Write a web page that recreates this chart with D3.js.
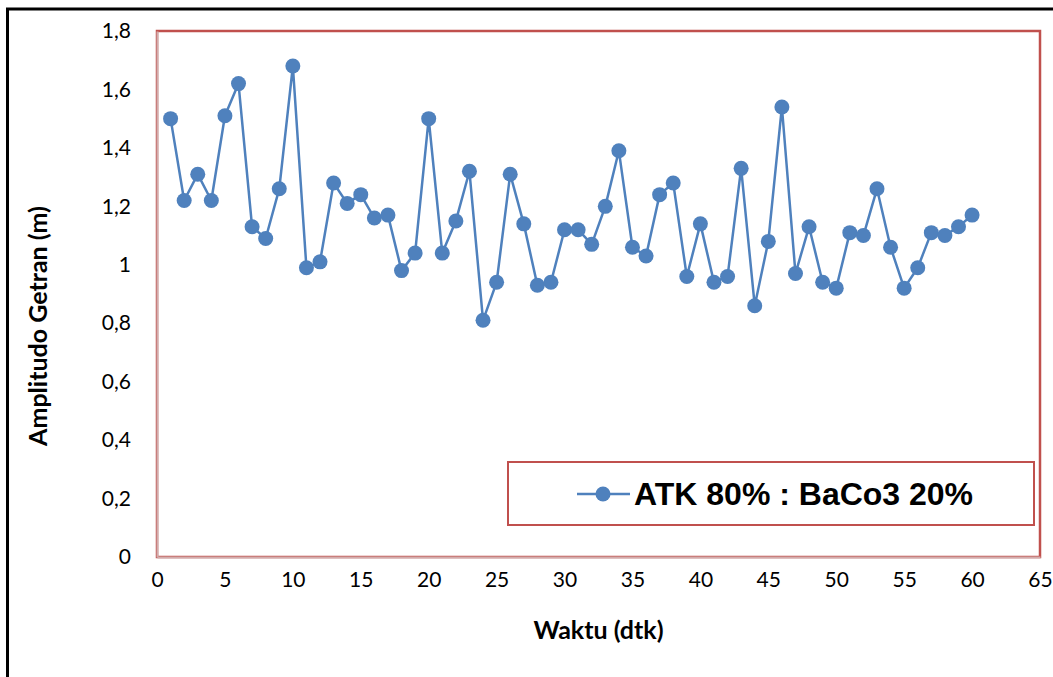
<!DOCTYPE html>
<html>
<head>
<meta charset="utf-8">
<script src="https://cdn.jsdelivr.net/npm/d3@7"></script>
<style>
  html, body { margin: 0; padding: 0; background: #ffffff; }
  svg { display: block; }
</style>
</head>
<body>
<svg id="chart" width="1053" height="677"></svg>
<script>
// Waktu (dtk) vs amplitudo getaran
const waktu = [1,2,3,4,5,6,7,8,9,10,11,12,13,14,15,16,17,18,19,20,
               21,22,23,24,25,26,27,28,29,30,31,32,33,34,35,36,37,38,39,40,
               41,42,43,44,45,46,47,48,49,50,51,52,53,54,55,56,57,58,59,60];
const amplitudo = [1.50,1.22,1.31,1.22,1.51,1.62,1.13,1.09,1.26,1.68,
                   0.99,1.01,1.28,1.21,1.24,1.16,1.17,0.98,1.04,1.50,
                   1.04,1.15,1.32,0.81,0.94,1.31,1.14,0.93,0.94,1.12,
                   1.12,1.07,1.20,1.39,1.06,1.03,1.24,1.28,0.96,1.14,
                   0.94,0.96,1.33,0.86,1.08,1.54,0.97,1.13,0.94,0.92,
                   1.11,1.10,1.26,1.06,0.92,0.99,1.11,1.10,1.13,1.17];
const xTicks = [0,5,10,15,20,25,30,35,40,45,50,55,60,65];
const yTicks = [0,0.2,0.4,0.6,0.8,1.0,1.2,1.4,1.6,1.8];
const seriesName = "ATK 80% : BaCo3 20%";
const xTitle = "Waktu (dtk)";
const yTitle = "Amplitudo Getran (m)";

const svg = d3.select("#chart");
const plot = { left: 157, right: 1040, top: 31, bottom: 557 };
const blue = "#4f81bd", red = "#c0504d";
const tickFont = "Lato, 'Open Sans', sans-serif";

const x = d3.scaleLinear().domain([0, 65]).range([plot.left, plot.right]);
const y = d3.scaleLinear().domain([0, 1.8]).range([plot.bottom, plot.top]);

const locale = d3.formatLocale({ decimal: ",", thousands: ".", grouping: [3], currency: ["", ""] });
const fmt = locale.format(".1~f");

// outer chart border
svg.append("rect")
  .attr("x", 7.5).attr("y", 9).attr("width", 1200).attr("height", 800)
  .attr("fill", "none").attr("stroke", "#000").attr("stroke-width", 3);

// plot area frame
svg.append("rect")
  .attr("x", plot.left).attr("y", plot.top)
  .attr("width", plot.right - plot.left).attr("height", plot.bottom - plot.top)
  .attr("fill", "none").attr("stroke", red).attr("stroke-width", 2.5);

// axes
const xAxis = svg.append("g")
  .attr("transform", `translate(0,${plot.bottom})`)
  .call(d3.axisBottom(x).tickValues(xTicks).tickSize(0).tickPadding(28).tickFormat(d3.format("d")));
const yAxis = svg.append("g")
  .attr("transform", `translate(${plot.left},0)`)
  .call(d3.axisLeft(y).tickValues(yTicks).tickSize(0).tickPadding(26).tickFormat(fmt));

[xAxis, yAxis].forEach(g => {
  g.select(".domain").attr("stroke", "#d2acac").attr("stroke-width", 2);
  g.selectAll("text")
    .attr("font-family", tickFont).attr("font-size", 21).attr("fill", "#000");
});
xAxis.selectAll("text").attr("dy", "0.1em");

// axis titles
svg.append("text")
  .attr("x", (plot.left + plot.right) / 2).attr("y", 639)
  .attr("text-anchor", "middle")
  .attr("font-family", tickFont).attr("font-weight", "bold").attr("font-size", 25)
  .text(xTitle);

svg.append("text")
  .attr("transform", "translate(47,326) rotate(-90)")
  .attr("text-anchor", "middle")
  .attr("font-family", tickFont).attr("font-weight", "bold").attr("font-size", 25)
  .text(yTitle);

// series line and markers
const pts = waktu.map((w, i) => [w, amplitudo[i]]);
svg.append("path")
  .datum(pts)
  .attr("fill", "none").attr("stroke", blue).attr("stroke-width", 2.5)
  .attr("stroke-linejoin", "round")
  .attr("d", d3.line().x(d => x(d[0])).y(d => y(d[1])));

svg.append("g").selectAll("circle")
  .data(pts).join("circle")
  .attr("cx", d => x(d[0])).attr("cy", d => y(d[1]))
  .attr("r", 7.5).attr("fill", blue);

// legend
const lg = svg.append("g");
lg.append("rect")
  .attr("x", 508).attr("y", 462).attr("width", 526).attr("height", 63)
  .attr("fill", "#fff").attr("stroke", red).attr("stroke-width", 2);
lg.append("line")
  .attr("x1", 577).attr("x2", 630).attr("y1", 494).attr("y2", 494)
  .attr("stroke", blue).attr("stroke-width", 2.5);
lg.append("circle").attr("cx", 603).attr("cy", 494).attr("r", 7.5).attr("fill", blue);
lg.append("text")
  .attr("x", 634).attr("y", 505)
  .attr("font-family", "'Liberation Sans', Arial, sans-serif")
  .attr("font-weight", "bold").attr("font-size", 32)
  .text(seriesName);
</script>
</body>
</html>
